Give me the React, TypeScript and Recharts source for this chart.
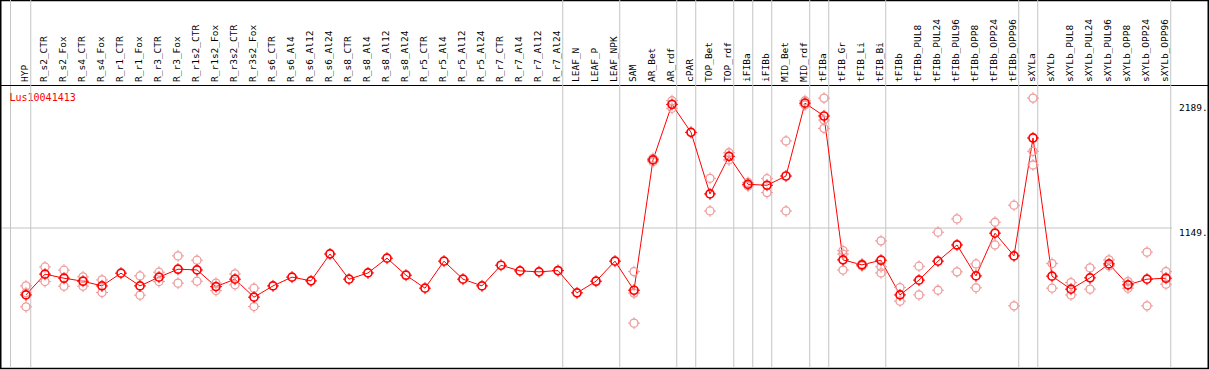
import { ComposedChart, Line, XAxis, YAxis, ReferenceLine, Customized } from "recharts";

const categories = [
  "HYP", "R_s2_CTR", "R_s2_Fox", "R_s4_CTR", "R_s4_Fox", "R_r1_CTR", "R_r1_Fox", "R_r3_CTR", "R_r3_Fox",
  "R_r1s2_CTR", "R_r1s2_Fox", "R_r3s2_CTR", "R_r3s2_Fox", "R_s6_CTR", "R_s6_Al4", "R_s6_Al12", "R_s6_Al24",
  "R_s8_CTR", "R_s8_Al4", "R_s8_Al12", "R_s8_Al24", "R_r5_CTR", "R_r5_Al4", "R_r5_Al12", "R_r5_Al24",
  "R_r7_CTR", "R_r7_Al4", "R_r7_Al12", "R_r7_Al24", "LEAF_N", "LEAF_P", "LEAF_NPK", "SAM", "AR_Bet", "AR_rdf",
  "cPAR", "TOP_Bet", "TOP_rdf", "iFIBa", "iFIBb", "MID_Bet", "MID_rdf", "tFIBa", "tFIB_Gr", "tFIB_Li", "tFIB_Bi",
  "tFIBb", "tFIBb_PUL8", "tFIBb_PUL24", "tFIBb_PUL96", "tFIBb_OPP8", "tFIBb_OPP24", "tFIBb_OPP96", "sXYLa",
  "sXYLb", "sXYLb_PUL8", "sXYLb_PUL24", "sXYLb_PUL96", "sXYLb_OPP8", "sXYLb_OPP24", "sXYLb_OPP96",
];

// mean expression per sample
const meanValues = [
  592, 765, 731, 706, 667, 773, 667, 740, 806, 800, 661, 723, 573, 667, 740, 709, 933, 723, 775, 898, 756,
  648, 873, 723, 667, 839, 792, 784, 795, 609, 706, 873, 631, 1716, 2179, 1946, 1433, 1746, 1513, 1505, 1582,
  2189, 2082, 884, 842, 881, 592, 715, 873, 1008, 750, 1106, 917, 1899, 748, 640, 734, 850, 676, 723, 731,
];

// individual replicates (null = none)
const rep1 = [
  667, 825, 798, 742, 717, null, 750, 781, 917, 881, 690, 767, 648, null, null, null, null, null, null, null, null,
  null, null, null, null, null, null, null, null, null, null, null, 786, 1729, 2209, null, 1563, 1776, 1528, 1560, 1874,
  2209, 2231, 961, 850, 1042, 653, 831, 1114, 1225, 850, 1197, 1339, 2231, 853, 695, 817, 884, 703, 948, 786,
];
const rep2 = [
  493, 703, 665, 665, 612, null, 590, 703, 690, 706, 628, 676, 495, null, null, null, null, null, null, null, null,
  null, null, null, null, null, null, null, null, null, null, null, 607, 1701, 2146, null, 1291, 1716, 1499, 1444, 1291,
  2173, 2048, 932, 833, 826, 540, 592, 631, 784, 651, 1008, 501, 1788, 648, 592, 640, 834, 648, 501, 681,
];
const rep3 = [
  609, null, null, null, null, null, null, null, null, null, null, null, null, null, null, null, null, null, null, null, null,
  null, null, null, null, null, null, null, null, null, null, null, 357, null, null, null, null, null, null, null, null,
  null, 1979, 799, null, 775, null, null, null, null, null, null, null, 1674, null, null, null, null, null, null, null,
];

// group separators, just right of these category indices
const groupEdges = [0.25, 28.25, 31.25, 34.25, 35.25, 37.25, 38.25, 39.25, 41.25, 42.25, 45.25, 52.25, 53.25, 60.25];
const yTicks = [0, 1149, 2189];
const geneName = "Lus10041413";

const data = categories.map((name, i) => ({
  idx: i,
  name,
  mean: meanValues[i],
  r1: rep1[i],
  r2: rep2[i],
  r3: rep3[i],
}));

const W = 1209;
const H = 370;
const FONT = "'DejaVu Sans Mono', monospace";

function gearDot(color: string, width: number) {
  return (props: any) => {
    const { cx, cy, value, index } = props;
    if (value == null || cx == null || cy == null || isNaN(cy)) return <g key={`e-${index}`} />;
    return (
      <g key={`d-${index}`}>
        <circle cx={cx} cy={cy} r={4} fill="none" stroke={color} strokeWidth={width} />
        <path
          d={`M${cx},${cy - 6}v2M${cx},${cy + 4}v2M${cx - 6},${cy}h2M${cx + 4},${cy}h2`}
          stroke={color}
          strokeWidth={1}
        />
      </g>
    );
  };
}

function HeaderTick({ x, y, payload }: any) {
  return (
    <text
      transform={`translate(${x + 2.5},${y - 3}) rotate(-90)`}
      textAnchor="start"
      fontFamily={FONT}
      fontSize={9.5}
      fill="#000"
    >
      {categories[payload.value]}
    </text>
  );
}

function ValueTick({ x, y, payload }: any) {
  const v = payload.value;
  return (
    <text x={x + 7} y={v === 0 ? y : y + 8} fontFamily={FONT} fontSize={9.5} fill="#000">
      {v === 0 ? "0" : `${v}.`}
    </text>
  );
}

function Frame() {
  return (
    <g>
      <rect x={0.75} y={0.5} width={W - 1.5} height={368} fill="none" stroke="#000" strokeWidth={1.5} />
      <rect x={10} y={0} width={1} height={368} fill="#c4c4c4" />
      <line x1={0} x2={W} y1={85.5} y2={85.5} stroke="#000" strokeWidth={1} />
      <text x={9.5} y={101} fontFamily={FONT} fontSize={10} fill="#ff0000">
        {geneName}
      </text>
    </g>
  );
}

export default function App() {
  return (
    <div style={{ position: "absolute", left: 0, top: 0, width: W, height: H, background: "#fff" }}>
      <ComposedChart width={W} height={H} data={data} margin={{ top: 0, right: 0, left: 2, bottom: 4 }}>
        <XAxis
          xAxisId={0}
          orientation="top"
          type="number"
          dataKey="idx"
          domain={[-1.263, 60.316]}
          allowDataOverflow
          ticks={categories.map((_, i) => i)}
          interval={0}
          height={85}
          tickSize={0}
          tickMargin={0}
          axisLine={false}
          tick={<HeaderTick />}
        />
        <YAxis
          yAxisId={0}
          orientation="right"
          width={37}
          domain={[0, 2340]}
          ticks={yTicks}
          tickSize={0}
          tickMargin={0}
          axisLine={false}
          tick={<ValueTick />}
        />
        <ReferenceLine y={1149} stroke="#c4c4c4" strokeWidth={1} ifOverflow="visible" />
        {groupEdges.map((e, i) => (
          <ReferenceLine
            key={`edge-${i}`}
            x={e}
            stroke="#c4c4c4"
            ifOverflow="visible"
            shape={(p: any) => (
              <line x1={p.x1} x2={p.x2} y1={0} y2={368} stroke="#c4c4c4" strokeWidth={1} />
            )}
          />
        ))}
        <Line dataKey="r1" stroke="none" dot={gearDot("#ee9a9a", 1.3)} activeDot={false} isAnimationActive={false} legendType="none" />
        <Line dataKey="r2" stroke="none" dot={gearDot("#ee9a9a", 1.3)} activeDot={false} isAnimationActive={false} legendType="none" />
        <Line dataKey="r3" stroke="none" dot={gearDot("#ee9a9a", 1.3)} activeDot={false} isAnimationActive={false} legendType="none" />
        <Line
          type="linear"
          dataKey="mean"
          stroke="#ff0000"
          strokeWidth={1}
          dot={gearDot("#ff0000", 1.7)}
          activeDot={false}
          isAnimationActive={false}
        />
        <Customized component={Frame} />
      </ComposedChart>
    </div>
  );
}
